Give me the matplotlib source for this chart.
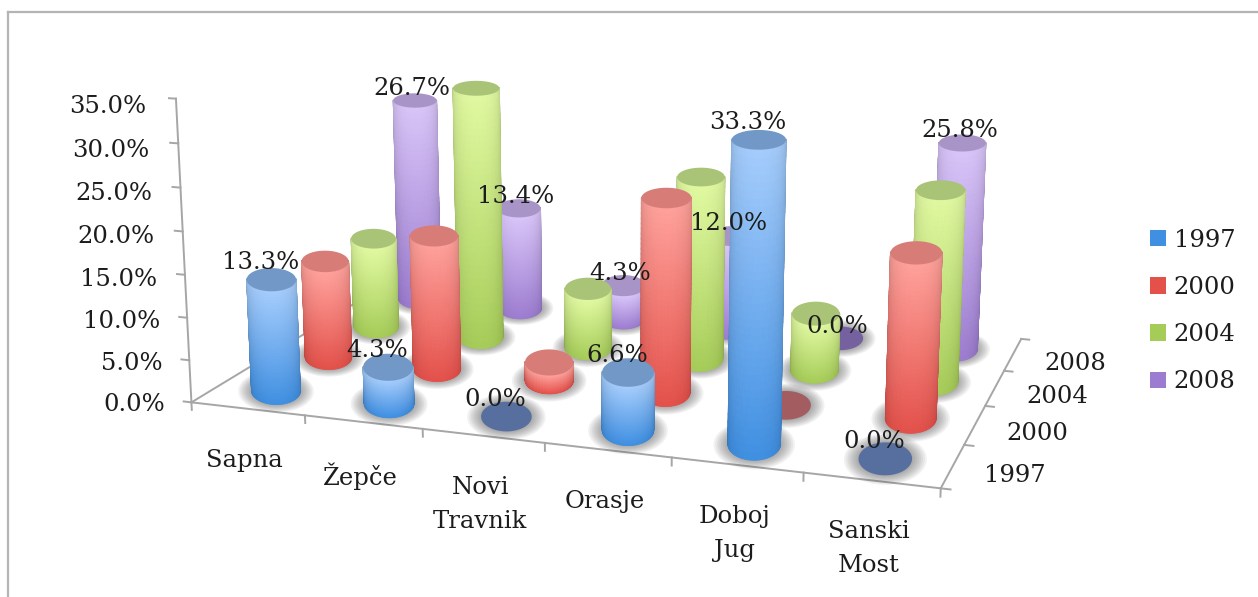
"""3D cylinder chart of vote share per municipality, 1997-2008."""
from __future__ import annotations

import matplotlib

matplotlib.use("Agg")
import matplotlib.pyplot as plt
import numpy as np
from matplotlib.lines import Line2D
from matplotlib.patches import Patch
from mpl_toolkits.mplot3d import proj3d
from mpl_toolkits.mplot3d.art3d import Poly3DCollection

CATEGORIES = ["Sapna", "Žepče", "Novi\nTravnik", "Orasje", "Doboj\nJug", "Sanski\nMost"]
YEARS = ["1997", "2000", "2004", "2008"]
VALUES_1997 = [13.3, 4.3, 0.0, 6.6, 33.3, 0.0]
VALUES_2000 = [12.0, 16.3, 2.2, 23.0, 0.0, 19.0]
VALUES_2004 = [11.5, 31.5, 7.5, 22.5, 7.0, 23.0]
VALUES_2008 = [26.7, 13.4, 4.3, 12.0, 0.0, 25.8]
VALUE_TICKS = [0, 5, 10, 15, 20, 25, 30, 35]

# pixel offset of the value labels from the bar top, only these years are labelled
LABEL_OFFSETS = {"1997": (-11, -17), "2008": (-3, -12)}

# top of body, bottom of body, cap, flat (zero height) cap
COLORS = {
    "1997": ("#a4ccfc", "#3f8fe2", "#7298c8", "#566f9f"),
    "2000": ("#ffa09a", "#e4504a", "#d87c78", "#a35c60"),
    "2004": ("#e0f9a0", "#a6cc58", "#a9c476", "#8ba860"),
    "2008": ("#d8c4f8", "#9c7cd0", "#a994c8", "#75619f"),
}
AXIS_COLOR = "#a6a6a6"
TEXT_COLOR = "#1c1c1c"
FONT = "DejaVu Serif"
FONT_SIZE = 17.5

# box sides and cylinder half sizes, all in roughly screen pixels
BOX_X, BOX_Y, BOX_Z = 729, 465, 298
HALF_WIDE, HALF_DEEP = 24, 43
ELEV = 14
AZIM = -71.5
FOCAL = 0.45
CAMERA_DIST = 2167


def hex_rgb(color: str) -> np.ndarray:
    return np.array(matplotlib.colors.to_rgb(color))


def ellipse(xc, yc, t, scale=1.0):
    """Floor ellipse with axes chosen per bar, so it reads level on screen."""
    a = np.radians(90 + AZIM)
    px = (xc / len(CATEGORIES) - 0.5) * BOX_X
    py = (yc / len(YEARS) - 0.5) * BOX_Y
    # deep axis points at the spot on the floor under the camera
    foot_x = CAMERA_DIST * np.sin(a) - px
    foot_y = -CAMERA_DIST * np.cos(a) - py
    norm = np.hypot(foot_x, foot_y)
    wide = HALF_WIDE * scale * np.cos(t)
    deep = HALF_DEEP * scale * np.sin(t)
    xs = xc + (wide * np.cos(a) + deep * foot_x / norm) * len(CATEGORIES) / BOX_X
    ys = yc + (wide * np.sin(a) + deep * foot_y / norm) * len(YEARS) / BOX_Y
    return xs, ys


def draw_shadow(ax, xc, yc) -> None:
    t = np.linspace(0, 2 * np.pi, 48)
    for scale in np.linspace(1.55, 1.05, 8):
        xs, ys = ellipse(xc, yc, t, scale)
        poly = Poly3DCollection(
            [list(zip(xs, ys, np.zeros_like(xs)))],
            facecolors=(0.25, 0.25, 0.25, 0.065),
            edgecolors="none",
            zorder=1,
        )
        ax.add_collection3d(poly)


def draw_cylinder(ax, xc, yc, value, year, order) -> None:
    top, bottom, cap, flat = COLORS[year]
    if value > 0:
        t = np.linspace(np.radians(-4), np.radians(184), 48)
        heights = np.linspace(0, value, 40)
        tt, hh = np.meshgrid(t, heights)
        xx, yy = ellipse(xc, yc, tt)

        tm = 0.5 * (tt[:-1, :-1] + tt[:-1, 1:])
        frac = (hh[:-1, :-1] + hh[1:, :-1]) / (2 * value)
        facing = np.clip(np.sin(tm), 0, 1)
        shade = 0.76 + 0.24 * np.sqrt(facing)
        rgb = hex_rgb(bottom) + (hex_rgb(top) - hex_rgb(bottom)) * frac[..., None]
        rgb = np.clip(rgb * shade[..., None], 0, 1)
        colors = np.dstack([rgb, np.ones(frac.shape)])
        ax.plot_surface(
            xx, yy, hh, facecolors=colors, rstride=1, cstride=1,
            shade=False, linewidth=0.6, antialiased=True, zorder=order,
        )

    ring = np.linspace(0, 2 * np.pi, 60)
    xs, ys = ellipse(xc, yc, ring)
    cap_poly = Poly3DCollection(
        [list(zip(xs, ys, np.full(60, value)))],
        facecolors=cap if value > 0 else flat,
        edgecolors="none",
        zorder=order + 0.5,
    )
    ax.add_collection3d(cap_poly)


def screen(ax, x, y, z) -> tuple[float, float]:
    px, py, _ = proj3d.proj_transform(x, y, z, ax.get_proj())
    return px, py


def put_text(ax, x, y, z, text, dx, dy, ha="center", va="center", size=FONT_SIZE) -> None:
    ax.annotate(
        text,
        xy=screen(ax, x, y, z),
        xytext=(dx, -dy),
        textcoords="offset pixels",
        ha=ha,
        va=va,
        fontsize=size,
        family=FONT,
        color=TEXT_COLOR,
        multialignment="center",
        linespacing=1.6,
        annotation_clip=False,
        zorder=100,
    )


def draw_axes(ax) -> None:
    line = dict(color=AXIS_COLOR, linewidth=1.4, zorder=0.5)
    n_cat, n_year = len(CATEGORIES), len(YEARS)
    ax.plot([0, n_cat], [0, 0], [0, 0], **line)
    ax.plot([0, 0], [0, n_year], [0, 0], **line)
    ax.plot([n_cat, n_cat], [0, n_year], [0, 0], **line)
    ax.plot([0, 0], [0, 0], [0, VALUE_TICKS[-1]], **line)
    for tick in VALUE_TICKS:
        ax.plot([-0.07, 0], [0, 0], [tick, tick], **line)
        put_text(ax, 0, 0, tick, f"{tick:.1f}%", -26 - 0.1 * tick, 2 + 0.17 * tick, ha="right")
    for i in range(n_cat + 1):
        ax.plot([i, i], [0, 0], [0, -0.9], **line)
    for j in range(n_year + 1):
        ax.plot([n_cat, n_cat + 0.07], [j, j], [0, 0], **line)
    for i, name in enumerate(CATEGORIES):
        put_text(ax, i + 0.5, 0, 0, name, -3, 40, va="top")
    for j, year in enumerate(YEARS):
        put_text(ax, n_cat, j + 0.5, 0, year, 62, 9)


def set_limits(ax) -> None:
    ax.set_xlim(0, len(CATEGORIES))
    ax.set_ylim(0, len(YEARS))
    ax.set_zlim(0, VALUE_TICKS[-1])


def main() -> None:
    fig = plt.figure(figsize=(12.58, 5.97), dpi=100, facecolor="white")
    size, left, bottom = 891, 168, -87
    ax = fig.add_axes(
        [left / 1258, bottom / 597, size / 1258, size / 597],
        projection="3d",
        computed_zorder=False,
    )
    ax.set_axis_off()
    ax.patch.set_alpha(0)
    ax.view_init(elev=ELEV, azim=AZIM)
    ax.set_proj_type("persp", focal_length=FOCAL)
    ax.set_box_aspect((BOX_X, BOX_Y, BOX_Z))
    set_limits(ax)

    series = [VALUES_1997, VALUES_2000, VALUES_2004, VALUES_2008]
    for j, values in enumerate(series):
        for i, value in enumerate(values):
            draw_shadow(ax, i + 0.5, j + 0.5)
    for j, (year, values) in reversed(list(enumerate(zip(YEARS, series)))):
        for i, value in enumerate(values):
            draw_cylinder(ax, i + 0.5, j + 0.5, value, year, 10 + (3 - j) * 10 + i)

    set_limits(ax)
    draw_axes(ax)
    set_limits(ax)

    for j, (year, values) in enumerate(zip(YEARS, series)):
        if year not in LABEL_OFFSETS:
            continue
        dx, dy = LABEL_OFFSETS[year]
        for i, value in enumerate(values):
            put_text(ax, i + 0.5, j + 0.5, value, f"{value:.1f}%", dx, dy)

    handles = [Patch(facecolor=COLORS[y][1], edgecolor="none") for y in YEARS]
    fig.legend(
        handles,
        YEARS,
        loc="center left",
        bbox_to_anchor=(1128 / 1258, 1 - 311 / 597),
        frameon=False,
        handlelength=0.68,
        handleheight=0.68,
        handletextpad=0.3,
        labelspacing=1.0,
        prop={"family": FONT, "size": FONT_SIZE},
        labelcolor=TEXT_COLOR,
    )

    border = dict(color="#b4b4b4", linewidth=1.6)
    fig.add_artist(Line2D([8 / 1258, 1], [1 - 12 / 597, 1 - 12 / 597], **border))
    fig.add_artist(Line2D([8 / 1258, 8 / 1258], [0, 1 - 12 / 597], **border))

    fig.savefig("out.png", dpi=100)


if __name__ == "__main__":
    main()
